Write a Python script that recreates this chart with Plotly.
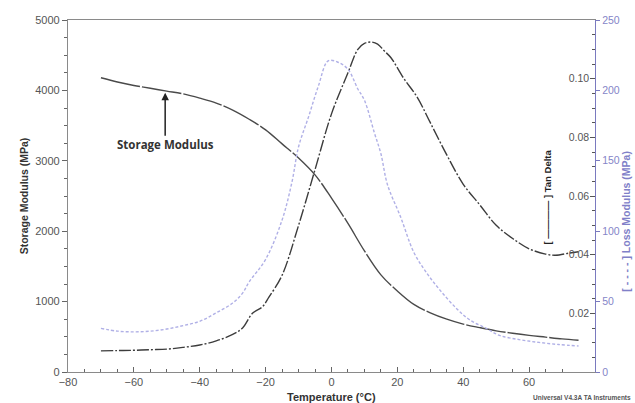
import plotly.graph_objects as go

# Storage modulus (MPa) vs temperature (°C)
storage_T = [-70, -65, -60, -55, -50, -45, -40, -35, -30, -25, -20, -15, -10, -5, 0, 5, 10, 15, 20,
             25, 30, 35, 40, 45, 50, 55, 60, 65, 70, 75]
storage_E = [4180, 4120, 4070, 4030, 3990, 3950, 3890, 3820, 3720, 3590, 3440, 3240, 3040, 2800, 2470,
             2110, 1720, 1380, 1150, 960, 840, 750, 680, 630, 585, 550, 520, 495, 470, 450]

# Tan delta vs temperature
tan_T = [-70, -65, -60, -55, -50, -45, -40, -35, -30, -27, -24, -21, -19, -15, -10, -5, 0, 5, 8, 10,
         12, 14, 16, 18, 22, 26, 30, 35, 40, 45, 50, 55, 60, 65, 68, 72, 75]
tan_D = [0.0072, 0.0073, 0.0074, 0.0076, 0.0078, 0.0084, 0.0092, 0.0106, 0.0128, 0.0150, 0.0200,
         0.0222, 0.0255, 0.0330, 0.0500, 0.0690, 0.0880, 0.1020, 0.1100, 0.1120, 0.1125, 0.1118,
         0.1095, 0.1072, 0.1000, 0.0937, 0.0850, 0.0740, 0.0640, 0.0570, 0.0500, 0.0455, 0.0420,
         0.0402, 0.0398, 0.0405, 0.0410]

# Loss modulus (MPa) vs temperature
loss_T = [-70, -65, -60, -55, -50, -45, -40, -35, -30, -27, -25, -20, -15, -12, -10, -7, -4, -1, 2, 5,
          8, 10, 13, 15, 17, 21, 25, 29, 33, 38, 42, 47, 51, 57, 63, 69, 75]
loss_E = [31, 29, 28.5, 29, 30.5, 33, 36, 42, 49, 56, 64, 80, 108, 135, 160, 181, 203, 221, 220, 215,
          201, 193, 170, 155, 133, 110, 85, 70, 58, 45, 37, 31, 26, 23, 21, 19.5, 18.5]

x_ticks = [-80, -60, -40, -20, 0, 20, 40, 60, 80]
left_ticks = [0, 1000, 2000, 3000, 4000, 5000]
tan_ticks = [0, 0.02, 0.04, 0.06, 0.08, 0.10, 0.12]
tan_labels = ["", "0.02", "0.04", "0.06", "0.08", "0.10", ""]
loss_ticks = [0, 50, 100, 150, 200, 250]

fig = go.Figure()
fig.add_trace(go.Scatter(x=storage_T, y=storage_E, mode="lines", yaxis="y",
                         line=dict(color="#4a4a4a", width=1.4, dash="40px,2px"), line_shape="spline"))
fig.add_trace(go.Scatter(x=tan_T, y=tan_D, mode="lines", yaxis="y2",
                         line=dict(color="#3c3c3c", width=1.4, dash="12px,2px,2px,2px"), line_shape="spline"))
fig.add_trace(go.Scatter(x=loss_T, y=loss_E, mode="lines", yaxis="y3",
                         line=dict(color="#b0b0e6", width=1.4, dash="3px,2px"), line_shape="spline"))

tick_font = dict(family="Liberation Sans, Arial", size=11, color="#555555")

fig.update_layout(
    width=635, height=403,
    margin=dict(l=68, r=40, t=20, b=31),
    paper_bgcolor="white", plot_bgcolor="white",
    showlegend=False,
    xaxis=dict(range=[-80, 80], tickmode="array", tickvals=x_ticks, ticks="inside", ticklen=5,
               tickcolor="#666", showline=True, linecolor="#8a8a8a", linewidth=1.2, mirror=True,
               showgrid=False, zeroline=False, tickfont=tick_font,
               minor=dict(dtick=5, tick0=0, ticks="inside", ticklen=3, tickcolor="#666")),
    yaxis=dict(range=[0, 5000], tickmode="array", tickvals=left_ticks, ticks="outside", ticklen=5,
               tickcolor="#666", showline=True, linecolor="#8a8a8a", linewidth=1.2,
               showgrid=False, zeroline=False, tickfont=tick_font,
               minor=dict(dtick=250, tick0=0, ticks="outside", ticklen=3, tickcolor="#666")),
    yaxis2=dict(range=[0, 0.12], overlaying="y", side="right", anchor="x",
                tickmode="array", tickvals=tan_ticks, ticktext=tan_labels,
                ticks="inside", ticklen=5, tickcolor="#555", ticklabelposition="inside",
                showline=False, showgrid=False, zeroline=False,
                tickfont=dict(family="Liberation Sans, Arial", size=10.5, color="#555555"),
                minor=dict(dtick=0.005, tick0=0, ticks="inside", ticklen=3, tickcolor="#555")),
    yaxis3=dict(range=[0, 250], overlaying="y", side="right", anchor="x",
                tickmode="array", tickvals=loss_ticks, ticks="outside", ticklen=4,
                tickcolor="#7a7abf", showline=True, linecolor="#7a7abf", linewidth=1.2,
                showgrid=False, zeroline=False,
                tickfont=dict(family="Liberation Sans, Arial", size=10.5, color="#8585c8")),
)

fig.add_annotation(x=-50.5, y=3965, xref="x", yref="y", text="<b>Storage Modulus</b>",
                   showarrow=True, arrowhead=2, arrowsize=1, arrowwidth=1.5, arrowcolor="#222",
                   ax=0, ay=52, standoff=0,
                   font=dict(family="Open Sans", size=11.5, color="#333333"))

fig.add_annotation(x=-0.098, y=0.5, xref="paper", yref="paper", text="<b>Storage Modulus (MPa)</b>",
                   showarrow=False, textangle=-90,
                   font=dict(family="Liberation Sans, Arial", size=10.5, color="#333333"))
fig.add_annotation(x=0.5, y=-0.071, xref="paper", yref="paper", text="<b>Temperature (°C)</b>",
                   showarrow=False, yanchor="middle",
                   font=dict(family="Liberation Sans, Arial", size=11, color="#333333"))
fig.add_annotation(x=0.924, y=0.497, xref="paper", yref="paper", text="<b>[ ———— ] Tan Delta</b>",
                   showarrow=False, textangle=-90,
                   font=dict(family="Liberation Sans, Arial", size=9.5, color="#222222"))
fig.add_annotation(x=1.074, y=0.43, xref="paper", yref="paper",
                   text="<b>[ - - - - ] Loss Modulus (MPa)</b>",
                   showarrow=False, textangle=-90,
                   font=dict(family="Liberation Sans, Arial", size=10.5, color="#8080c8"))
fig.add_annotation(x=1.072, y=-0.072, xref="paper", yref="paper", text="<b>Universal V4.3A TA Instruments</b>",
                   showarrow=False, xanchor="right", yanchor="middle",
                   font=dict(family="Liberation Sans, Arial", size=6.5, color="#555555"))

fig.write_html("out.html")
